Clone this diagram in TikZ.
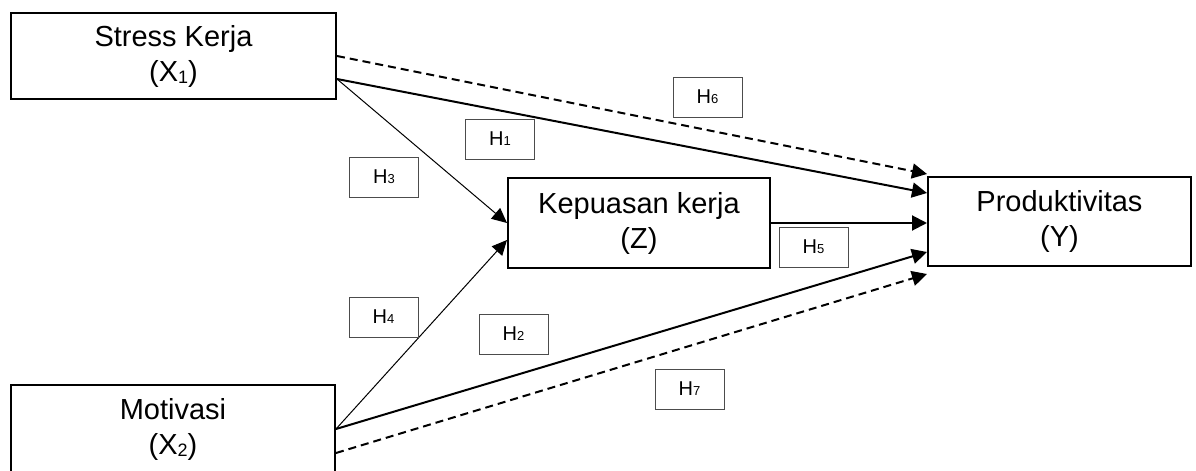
\documentclass[tikz,border=0pt]{standalone}
\usepackage{fontspec}
\setmainfont{Liberation Sans}
\usetikzlibrary{arrows.meta}

% small lowered index for the variable names, tiny index for the hypothesis tags
\newcommand{\varidx}[1]{\raisebox{-1.2pt}{\fontsize{9}{9}\selectfont #1}}
\newcommand{\hypidx}[1]{{\fontsize{6.5}{7}\selectfont #1}}

\begin{document}
\begin{tikzpicture}[x=0.5pt,y=-0.5pt,
  var/.style={draw, line width=1pt, align=center, inner sep=0pt,
    font=\fontsize{14.5}{17.5}\selectfont},
  hyp/.style={draw=black!70, line width=0.5pt, minimum width=34.5pt,
    minimum height=20pt, inner sep=0pt, font=\fontsize{10}{12}\selectfont},
  strong/.style={line width=1pt, -{Triangle[length=7.5pt,width=7.5pt]}},
  weak/.style={line width=0.5pt, -{Triangle[length=7.5pt,width=7pt]}},
  indirect/.style={strong, dash pattern=on 4pt off 2.5pt}
]
\useasboundingbox (0,0) rectangle (1196,471);

% variables
\node[var, minimum width=162.5pt, minimum height=43pt] (x1) at (173.5,56)
  {Stress Kerja\\(X\varidx{1})};
\node[var, minimum width=131pt, minimum height=45pt] (z) at (639,223)
  {Kepuasan kerja\\(Z)};
\node[var, minimum width=131.5pt, minimum height=44.5pt] (y) at (1059.5,221.5)
  {Produktivitas\\(Y)};
\node[var, minimum width=162pt, minimum height=44pt] (x2) at (173,429)
  {Motivasi\\(X\varidx{2})};

% paths
\draw[indirect] (x1.east) -- ([yshift=1pt]y.north west);
\draw[strong] ([yshift=-11.5pt]x1.east) -- ([yshift=14.25pt]y.west);
\draw[weak] ([yshift=-11.5pt]x1.east) -- (z.west);
\draw[weak] (x2.east) -- ([yshift=-8.5pt]z.west);
\draw[strong] (z.east) -- (z.east -| y.west);
\draw[strong] (x2.east) -- ([yshift=-15.25pt]y.west);
\draw[indirect] ([yshift=-12pt]x2.east) -- ([yshift=-3.5pt]y.south west);

% hypothesis tags
\node[hyp] (h6) at (707.5,97)  {H\hypidx{6}};
\node[hyp] (h1) at (500,139)   {H\hypidx{1}};
\node[hyp] (h3) at (384,177)   {H\hypidx{3}};
\node[hyp] (h5) at (813.5,247) {H\hypidx{5}};
\node[hyp] (h4) at (383.5,317) {H\hypidx{4}};
\node[hyp] (h2) at (513.5,334) {H\hypidx{2}};
\node[hyp] (h7) at (689.5,389) {H\hypidx{7}};
\end{tikzpicture}
\end{document}
